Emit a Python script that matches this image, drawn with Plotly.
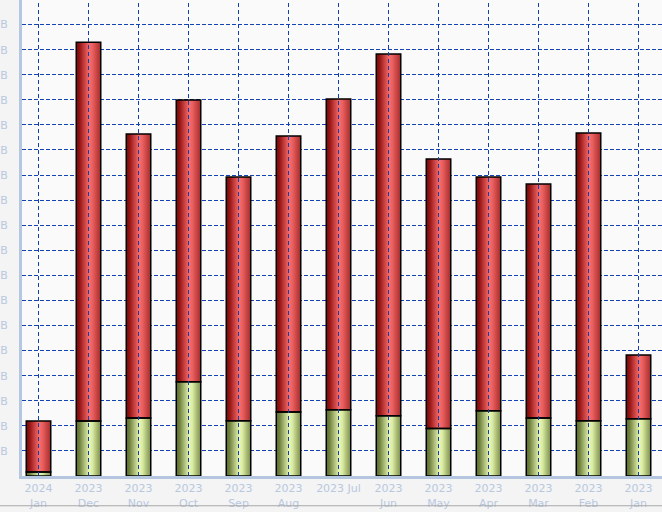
import plotly.graph_objects as go

# ---- data ----
categories = ["2024 Jan", "2023 Dec", "2023 Nov", "2023 Oct", "2023 Sep", "2023 Aug",
              "2023 Jul", "2023 Jun", "2023 May", "2023 Apr", "2023 Mar", "2023 Feb", "2023 Jan"]
tick_labels = ["2024<br>Jan", "2023<br>Dec", "2023<br>Nov", "2023<br>Oct", "2023<br>Sep",
               "2023<br>Aug", "2023 Jul", "2023<br>Jun", "2023<br>May", "2023<br>Apr",
               "2023<br>Mar", "2023<br>Feb", "2023<br>Jan"]
green_values = [0.16, 2.19, 2.31, 3.76, 2.20, 2.55, 2.64, 2.40, 1.89, 2.60, 2.31, 2.20, 2.28]
total_values = [2.19, 17.30, 13.64, 14.99, 11.92, 13.56, 15.03, 16.83, 12.64, 11.92, 11.64, 13.68, 4.82]
red_values = [round(t - g, 2) for t, g in zip(total_values, green_values)]
y_tick_values = list(range(1, 20))
y_tick_labels = [f"{v} GB" for v in y_tick_values]

# ---- styling ----
BAR_W = 0.49
N_SLICES = 24
red_stops = [(0.0, (110, 8, 8)), (0.15, (150, 20, 20)), (0.55, (246, 108, 108)),
             (0.68, (236, 96, 96)), (1.0, (172, 48, 48))]
green_stops = [(0.0, (88, 104, 44)), (0.15, (112, 130, 62)), (0.55, (232, 246, 180)),
               (0.68, (220, 236, 164)), (1.0, (132, 150, 84))]


def interp(stops, t):
    for (t0, c0), (t1, c1) in zip(stops[:-1], stops[1:]):
        if t0 <= t <= t1:
            f = (t - t0) / (t1 - t0) if t1 > t0 else 0
            return "rgb(%d,%d,%d)" % tuple(round(a + (b - a) * f) for a, b in zip(c0, c1))
    return "rgb(%d,%d,%d)" % stops[-1][1]


fig = go.Figure()
step = BAR_W / N_SLICES
for vals, base, stops in [(green_values, [0] * len(categories), green_stops),
                          (red_values, green_values, red_stops)]:
    for k in range(N_SLICES):
        off = -BAR_W / 2 + k * step
        wid = min(step * 1.8, BAR_W / 2 - off)
        fig.add_trace(go.Bar(x=categories, y=vals, base=base, width=wid, offset=off,
                             marker=dict(color=interp(stops, (k + 0.5) / N_SLICES),
                                         line=dict(width=0)),
                             showlegend=False, hoverinfo="skip"))
# outlines
for vals, base in [(green_values, [0] * len(categories)), (red_values, green_values)]:
    fig.add_trace(go.Bar(x=categories, y=vals, base=base, width=BAR_W, offset=-BAR_W / 2,
                         marker=dict(color="rgba(0,0,0,0)", line=dict(color="black", width=1.5)),
                         showlegend=False))

# vertical dashed grid lines drawn over the bars
for c in categories:
    fig.add_shape(type="line", xref="x", yref="paper", x0=c, x1=c, y0=0, y1=1,
                  layer="above", line=dict(color="#1040b0", width=1, dash="4px,3px"))
# bottom frame line
fig.add_shape(type="line", xref="paper", yref="paper", x0=-0.1, x1=1.1, y0=-0.0625, y1=-0.0625,
              line=dict(color="#a8a8a8", width=1))

fig.update_layout(
    width=662, height=512,
    margin=dict(l=22, r=0, t=0, b=36),
    barmode="overlay",
    plot_bgcolor="#fafafa",
    paper_bgcolor="#f4f4f4",
    font=dict(family="DejaVu Sans, Verdana, sans-serif", size=11, color="#b8c8e0"),
    xaxis=dict(type="category", categoryorder="array", categoryarray=categories,
               range=[-0.33, 12.47], tickvals=categories, ticktext=tick_labels,
               showgrid=False, showline=True, linecolor="#b4c6e0", linewidth=3,
               ticks="", zeroline=False, fixedrange=True, automargin=False),
    yaxis=dict(range=[0, 18.98], tickvals=y_tick_values, ticktext=y_tick_labels,
               showgrid=True, gridcolor="#1444b4", gridwidth=1, griddash="4px,2px",
               showline=True, linecolor="#b4c6e0", linewidth=3, ticks="",
               ticklabelstandoff=9, zeroline=False, fixedrange=True, automargin=False),
)

fig.write_html("out.html", config={"displayModeBar": False},
               post_script="document.body.style.margin='0';document.body.style.overflow='hidden';")
